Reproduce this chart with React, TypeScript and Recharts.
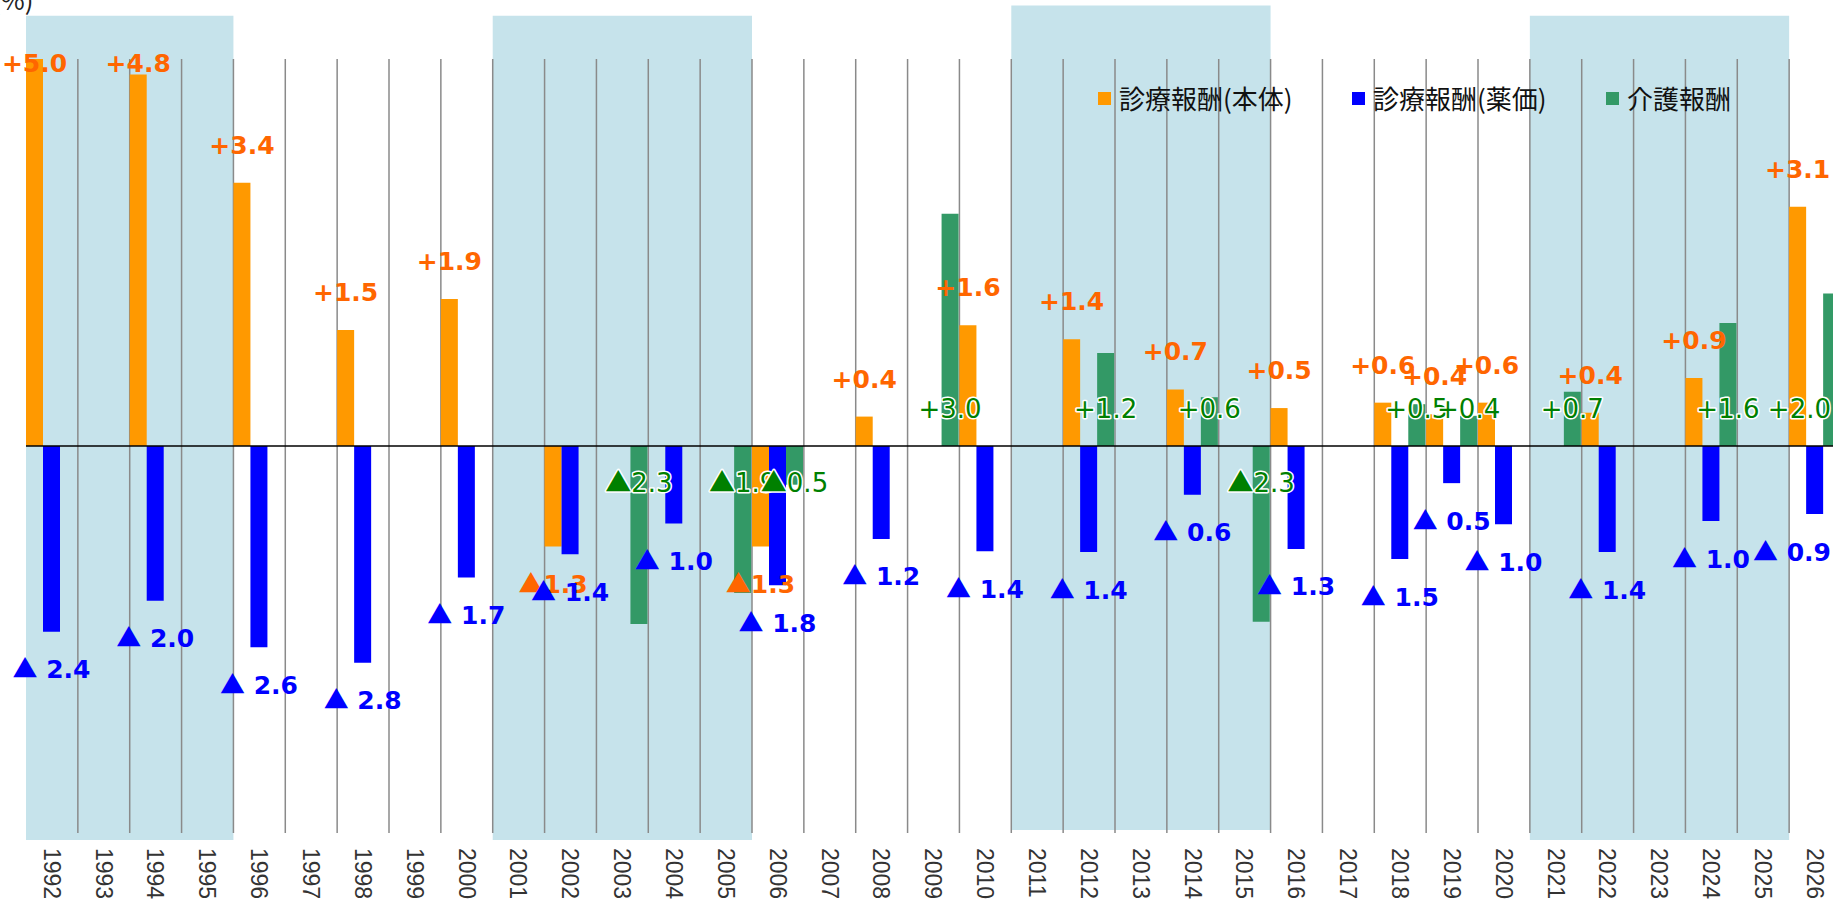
import React from "react";
import {
  BarChart,
  Bar,
  XAxis,
  YAxis,
  CartesianGrid,
  ReferenceArea,
  ReferenceLine,
  LabelList,
  Legend,
} from "recharts";

// 改定年度
const YEARS = [
  "1992", "1993", "1994", "1995", "1996", "1997", "1998", "1999", "2000",
  "2001", "2002", "2003", "2004", "2005", "2006", "2007", "2008", "2009",
  "2010", "2011", "2012", "2013", "2014", "2015", "2016", "2017", "2018",
  "2019", "2020", "2021", "2022", "2023", "2024", "2025", "2026",
];

// 診療報酬(本体) 改定率 (%)
const HONTAI = [
  5.0, null, 4.8, null, 3.4, null, 1.5, null, 1.9,
  null, -1.3, null, 0.0, null, -1.3, null, 0.38, null,
  1.56, null, 1.38, null, 0.73, null, 0.49, null, 0.56,
  0.41, 0.56, null, 0.43, null, 0.88, null, 3.09,
];

// 診療報酬(薬価) 改定率 (%)
const YAKKA = [
  -2.4, null, -2.0, null, -2.6, null, -2.8, null, -1.7,
  null, -1.4, null, -1.0, null, -1.8, null, -1.2, null,
  -1.36, null, -1.37, null, -0.63, null, -1.33, null, -1.46,
  -0.48, -1.01, null, -1.37, null, -0.97, null, -0.88,
];

// 介護報酬 改定率 (%)
const KAIGO = [
  null, null, null, null, null, null, null, null, null,
  null, null, -2.3, null, -1.9, -0.5, null, null, 3.0,
  null, null, 1.2, null, 0.63, -2.27, null, null, 0.54,
  0.39, null, 0.7, null, null, 1.59, null, 1.97,
];

const Y_TICKS = [-5, -4, -3, -2, -1, 0, 1, 2, 3, 4, 5];

// 網掛けの期間
const BAND_FROM = ["1992", "2001", "2011", "2021"];
const BAND_TO = ["1995", "2005", "2015", "2025"];

const SERIES = [
  { key: "hontai", name: "診療報酬(本体)", color: "#FF9900" },
  { key: "yakka", name: "診療報酬(薬価)", color: "#0000FF" },
  { key: "kaigo", name: "介護報酬", color: "#339966" },
];

const data = YEARS.map((year, i) => ({
  year,
  hontai: HONTAI[i],
  yakka: YAKKA[i],
  kaigo: KAIGO[i],
}));

const VIEW_W = 1833;
const CHART_W = 1841;
const CHART_H = 903;

type LabelOpts = {
  color: string;
  bold: boolean;
  size: number;
  gap: string;
  halo: boolean;
  fromZero: boolean;
};

function textWidth(s: string, size: number, bold: boolean) {
  let em = 0;
  for (const ch of s) {
    if (ch === "▲") em += 1;
    else if (ch === "+") em += 0.838;
    else if (ch === ".") em += bold ? 0.38 : 0.318;
    else if (ch === " ") em += bold ? 0.348 : 0.318;
    else em += bold ? 0.696 : 0.636;
  }
  return em * size;
}

const makeLabel = (o: LabelOpts) => (props: any) => {
  const value = props.value;
  if (value === null || value === undefined || value === "") return null;
  const v = Number(value);
  const vb = props.viewBox && props.viewBox.width !== undefined ? props.viewBox : props;
  const x = Number(vb.x);
  const y = Number(vb.y);
  const w = Number(vb.width);
  const h = Number(vb.height);
  const top = Math.min(y, y + h);
  const bottom = Math.max(y, y + h);
  const num = Math.abs(v).toFixed(1);
  const str = v >= 0 ? "+" + num : "▲" + o.gap + num;
  let cx = x + w / 2;
  const tw = textWidth(str, o.size, o.bold);
  if (cx + tw / 2 > VIEW_W - 2) cx = VIEW_W - 2 - tw / 2;
  let cy: number;
  if (o.fromZero) cy = v >= 0 ? bottom - 37 : top + 37;
  else cy = v >= 0 ? Math.max(top - 38, 63) : bottom + 37.5;
  return (
    <text
      x={cx}
      y={cy}
      dy="0.36em"
      textAnchor="middle"
      fill={o.color}
      fontSize={o.size}
      fontWeight={o.bold ? 700 : 400}
      fontFamily="'DejaVu Sans', sans-serif"
      stroke={o.halo ? "#ffffff" : "none"}
      strokeWidth={o.halo ? 3 : 0}
      strokeLinejoin="round"
      paintOrder="stroke"
    >
      {v >= 0 ? (
        str
      ) : (
        <>
          <tspan fontFamily="'Noto Sans CJK JP', sans-serif">▲</tspan>
          {o.gap + num}
        </>
      )}
    </text>
  );
};

const orangeLabel = makeLabel({ color: "#FF6600", bold: true, size: 25, gap: "", halo: false, fromZero: false });
const blueLabel = makeLabel({ color: "#0000FF", bold: true, size: 25, gap: " ", halo: false, fromZero: false });
const greenLabel = makeLabel({ color: "#008000", bold: false, size: 26, gap: "", halo: true, fromZero: true });

function YearTick(props: any) {
  const { x, y, payload } = props;
  return (
    <text
      x={x}
      y={y}
      dx={15}
      dy="0.36em"
      transform={`rotate(90, ${x}, ${y})`}
      textAnchor="start"
      fill="#333"
      fontSize={23}
      fontFamily="'Liberation Sans', sans-serif"
    >
      {payload.value}
    </text>
  );
}

function LegendContent() {
  return (
    <div style={{ display: "flex", fontFamily: "'Noto Sans CJK JP', sans-serif", fontSize: 26, lineHeight: "26px", color: "#111" }}>
      {SERIES.map((s) => (
        <div key={s.key} style={{ display: "flex", alignItems: "center", width: 254 }}>
          <span style={{ display: "inline-block", width: 13, height: 13, background: s.color, marginRight: 8 }} />
          <span>{s.name}</span>
        </div>
      ))}
    </div>
  );
}

const gridX = ({ offset }: any) =>
  YEARS.slice(1).map((_, i) => offset.left + ((i + 1) * offset.width) / YEARS.length);

export default function App() {
  return (
    <div style={{ position: "absolute", left: 0, top: 0, width: VIEW_W, height: CHART_H, overflow: "hidden", background: "#fff" }}>
      <div
        style={{
          position: "absolute",
          left: -8,
          top: -14,
          fontFamily: "'Noto Sans CJK JP', sans-serif",
          fontSize: 26,
          lineHeight: "26px",
          color: "#222",
        }}
      >
        (%)
      </div>
      <BarChart
        width={CHART_W}
        height={CHART_H}
        data={data}
        margin={{ top: 59, right: 0, bottom: 0, left: 26 }}
        barCategoryGap={0}
        barGap={0}
      >
        {BAND_FROM.map((from, i) => (
          <ReferenceArea
            key={from}
            x1={from}
            x2={BAND_TO[i]}
            y1={i === 2 ? -4.96 : -5.09}
            y2={i === 2 ? 5.69 : 5.56}
            fill="#C6E3EB"
            fillOpacity={1}
            stroke="none"
            ifOverflow="visible"
            zIndex={-200}
          />
        ))}
        <CartesianGrid
          horizontal={false}
          vertical
          verticalCoordinatesGenerator={gridX}
          stroke="#8a8a8a"
          strokeWidth={1.5}
        />
        <XAxis
          dataKey="year"
          interval={0}
          height={70}
          axisLine={false}
          tickLine={false}
          tickSize={0}
          tickMargin={0}
          tick={<YearTick />}
        />
        <YAxis
          domain={[-5, 5]}
          ticks={Y_TICKS}
          width={0}
          tick={false}
          tickSize={5}
          tickLine={{ stroke: "#aaa" }}
          axisLine={{ stroke: "#333", strokeWidth: 2 }}
        />
        <Legend
          layout="horizontal"
          verticalAlign="middle"
          align="center"
          content={<LegendContent />}
          wrapperStyle={{ top: 85, left: 1098, width: "auto" }}
        />
        <Bar dataKey="hontai" name={SERIES[0].name} fill={SERIES[0].color} isAnimationActive={false}>
          <LabelList dataKey="hontai" content={orangeLabel} />
        </Bar>
        <Bar dataKey="yakka" name={SERIES[1].name} fill={SERIES[1].color} isAnimationActive={false}>
          <LabelList dataKey="yakka" content={blueLabel} />
        </Bar>
        <Bar dataKey="kaigo" name={SERIES[2].name} fill={SERIES[2].color} isAnimationActive={false}>
          <LabelList dataKey="kaigo" content={greenLabel} />
        </Bar>
        <ReferenceLine y={0} stroke="#000" strokeWidth={1.5} />
      </BarChart>
    </div>
  );
}
